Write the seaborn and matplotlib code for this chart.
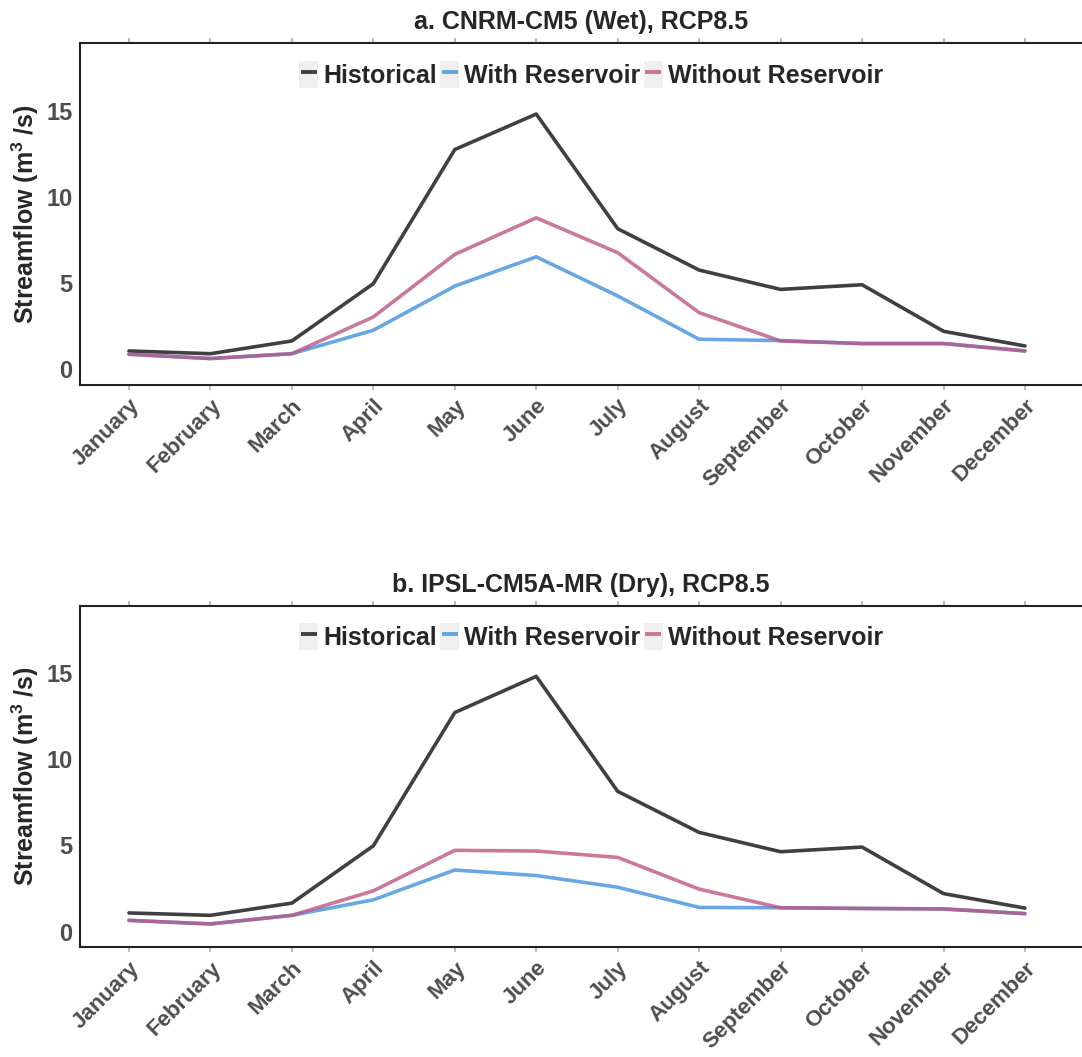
import pandas as pd
import seaborn as sns
import matplotlib.pyplot as plt
from matplotlib.patches import Rectangle
from matplotlib.lines import Line2D
from matplotlib.legend_handler import HandlerTuple

# %% DATA

months = ['January', 'February', 'March', 'April', 'May', 'June', 'July',
          'August', 'September', 'October', 'November', 'December']
series = ['Historical', 'With Reservoir', 'Without Reservoir']

hist_a = [1.06, 0.90, 1.64, 4.96, 12.74, 14.80, 8.15, 5.75, 4.63, 4.90, 2.20, 1.35]
with_a = [0.87, 0.62, 0.90, 2.26, 4.82, 6.52, 4.25, 1.74, 1.66, 1.49, 1.49, 1.06]
without_a = [0.87, 0.62, 0.90, 3.03, 6.66, 8.78, 6.76, 3.28, 1.64, 1.49, 1.49, 1.06]

hist_b = [1.08, 0.94, 1.65, 4.97, 12.70, 14.80, 8.13, 5.75, 4.63, 4.90, 2.20, 1.36]
with_b = [0.65, 0.44, 0.94, 1.84, 3.57, 3.25, 2.57, 1.40, 1.38, 1.34, 1.31, 1.04]
without_b = [0.65, 0.44, 0.94, 2.36, 4.71, 4.67, 4.30, 2.46, 1.38, 1.34, 1.31, 1.04]

titles = ['a. CNRM-CM5 (Wet), RCP8.5', 'b. IPSL-CM5A-MR (Dry), RCP8.5']
colors = {'Historical': '#404040', 'With Reservoir': '#3d8fdc', 'Without Reservoir': '#bb5380'}


def long_form(hist, wres, wores):
    return pd.concat([
        pd.DataFrame({'Month': months, 'Flow': vals, 'Series': name})
        for name, vals in zip(series, [hist, wres, wores])
    ])


panels = [long_form(hist_a, with_a, without_a), long_form(hist_b, with_b, without_b)]

# %% PLOT

sns.set_style('white')
plt.rcParams['font.family'] = ['Liberation Sans', 'DejaVu Sans']
plt.rcParams['font.weight'] = 'bold'
plt.rcParams['mathtext.fontset'] = 'custom'
plt.rcParams['mathtext.bf'] = 'Liberation Sans:bold'
plt.rcParams['mathtext.rm'] = 'Liberation Sans:bold'

fig = plt.figure(figsize=(10.82, 10.57), dpi=100)
axes = [fig.add_axes([0.074, 0.636, 0.926, 0.323]),
        fig.add_axes([0.074, 0.104, 0.926, 0.323])]

for ax, data, title in zip(axes, panels, titles):
    sns.lineplot(data=data, x='Month', y='Flow', hue='Series', hue_order=series,
                 palette=colors, sort=False, linewidth=2.6, alpha=0.78,
                 legend=False, ax=ax)
    ax.lines[0].set_alpha(1.0)  # historical line is opaque

    ax.set_xlim(-0.6, 11.7)
    ax.set_ylim(-0.9, 18.9)
    ax.set_yticks([0, 5, 10, 15])
    ax.set_xticks(range(12))
    ax.set_xticklabels(months, rotation=45, ha='right', va='top', rotation_mode='anchor')
    ax.set_xlabel('')
    ax.set_ylabel(r'Streamflow (m$^{\mathbf{3}}$ /s)', fontsize=18, fontweight='bold',
                  labelpad=4)
    ax.set_title(title, fontsize=18, fontweight='bold', pad=10)

    ax.tick_params(axis='both', labelcolor='#4d4d4d', colors='#b0b0b0',
                   length=3.5, width=1.2, direction='out')
    ax.tick_params(axis='y', labelsize=17, pad=2)
    ax.tick_params(axis='x', labelsize=16, pad=4)
    ax.tick_params(axis='x', top=True, bottom=True)
    for lbl in ax.get_xticklabels() + ax.get_yticklabels():
        lbl.set_fontweight('bold')
        lbl.set_color('#4d4d4d')

    for side in ['left', 'bottom', 'top']:
        ax.spines[side].set_color('#222222')
        ax.spines[side].set_linewidth(1.5)
    ax.spines['right'].set_visible(False)

    handles = [(Rectangle((0, 0), 1, 1, facecolor='#efefef', edgecolor='none'),
                Line2D([], [], color=colors[s], marker='_', markersize=11,
                       markeredgewidth=2.8, linestyle='None',
                       alpha=1.0 if s == 'Historical' else 0.78))
               for s in series]
    ax.legend(handles, series, handler_map={tuple: HandlerTuple(ndivide=1)},
              loc='upper center', bbox_to_anchor=(0.51, 1.0), ncol=3, frameon=False,
              handlelength=0.75, handleheight=1.3, handletextpad=0.2,
              columnspacing=0.15, borderaxespad=0.3,
              prop={'weight': 'bold', 'size': 18})

fig.savefig('out.png', dpi=100)
